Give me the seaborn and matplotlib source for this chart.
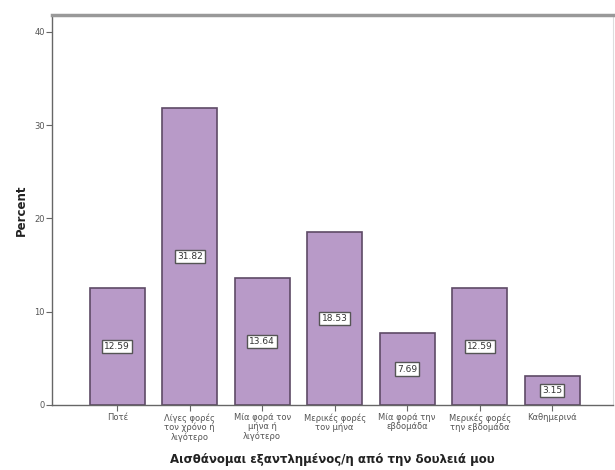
import matplotlib
matplotlib.use("Agg")
import matplotlib.pyplot as plt
import seaborn as sns
import pandas as pd

categories = [
    "Ποτέ",
    "Λίγες φορές\nτον χρόνο ή\nλιγότερο",
    "Μία φορά τον\nμήνα ή\nλιγότερο",
    "Μερικές φορές\nτον μήνα",
    "Μία φορά την\nεβδομάδα",
    "Μερικές φορές\nτην εβδομάδα",
    "Καθημερινά",
]
percent = [12.59, 31.82, 13.64, 18.53, 7.69, 12.59, 3.15]

df = pd.DataFrame({"category": categories, "percent": percent})

sns.set_style("white")
plt.rcParams["font.family"] = ["DejaVu Sans"]

fig = plt.figure(figsize=(6.15, 4.7), dpi=100)
ax = fig.add_axes([52 / 615, 65 / 470, (613 - 52) / 615, (455 - 65) / 470])

sns.barplot(data=df, x="category", y="percent", ax=ax, color="#b89ac8",
            saturation=1, width=0.76, edgecolor="#5e4a66", linewidth=1.2)

for patch, val in zip(ax.patches, percent):
    cx = patch.get_x() + patch.get_width() / 2
    ax.text(cx, val / 2, f"{val:.2f}", ha="center", va="center", fontsize=6.5,
            color="#333333",
            bbox=dict(boxstyle="square,pad=0.25", fc="white", ec="#555555", lw=1.0))

ax.set_xlim(-0.9, 6.84)
ax.set_ylim(0, 41.8)
ax.set_yticks([0, 10, 20, 30, 40])
ax.tick_params(axis="both", which="major", direction="out", length=4, width=0.8,
               color="#666666", labelsize=6, labelcolor="#555555", bottom=True, left=True)
ax.tick_params(axis="y", pad=1)
ax.tick_params(axis="x", pad=2)
for lbl in ax.get_xticklabels():
    lbl.set_linespacing(1.0)

ax.set_xlabel("Αισθάνομαι εξαντλημένος/η από την δουλειά μου",
              fontsize=8.5, fontweight="bold", color="#222222", labelpad=8)
ax.set_ylabel("Percent", fontsize=8.5, fontweight="bold", color="#222222", labelpad=5)

for side in ["left", "bottom"]:
    ax.spines[side].set_color("#666666")
    ax.spines[side].set_linewidth(1.0)
ax.spines["top"].set_color("#999999")
ax.spines["top"].set_linewidth(2.5)
ax.spines["right"].set_color("#dddddd")
ax.spines["right"].set_linewidth(0.8)

fig.savefig("out.png", dpi=100)
